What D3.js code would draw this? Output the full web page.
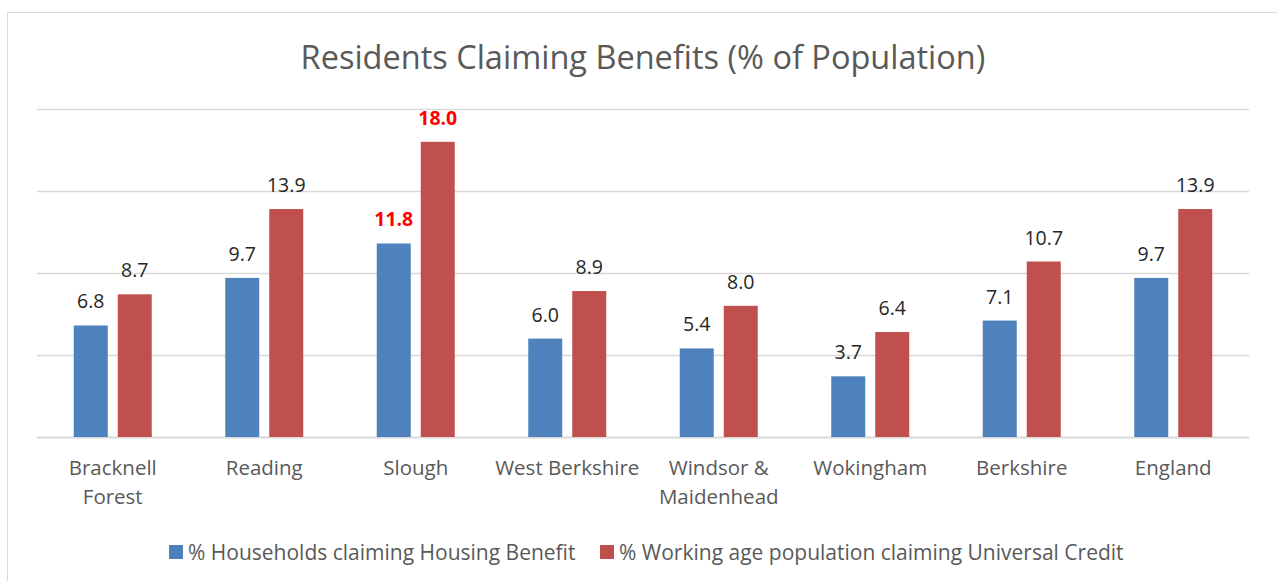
<!DOCTYPE html>
<html>
<head>
<meta charset="utf-8">
<script src="https://cdn.jsdelivr.net/npm/d3@7"></script>
<style>
  body { margin: 0; background: #fff; }
  svg { display: block; font-family: "Open Sans", "Noto Sans", sans-serif; }
</style>
</head>
<body>
<svg id="chart" width="1277" height="581"></svg>
<script>
var categories = [["Bracknell", "Forest"], ["Reading"], ["Slough"], ["West Berkshire"],
                  ["Windsor &", "Maidenhead"], ["Wokingham"], ["Berkshire"], ["England"]];
var housing = [6.8, 9.7, 11.8, 6.0, 5.4, 3.7, 7.1, 9.7];
var credit = [8.7, 13.9, 18.0, 8.9, 8.0, 6.4, 10.7, 13.9];
var seriesNames = ["% Households claiming Housing Benefit", "% Working age population claiming Universal Credit"];
var colors = ["#4F81BD", "#C0504D"];
var yTicks = [0, 5, 10, 15, 20];
// labels drawn bold red (highest values)
var highlight = [[2], [2]];

(function(){
var svg = d3.select("#chart");

// chart frame
svg.append("rect")
    .attr("x", 7.5).attr("y", 12.5)
    .attr("width", 1290).attr("height", 600)
    .attr("fill", "none").attr("stroke", "#D9D9D9");

var plotLeft = 37, plotRight = 1249, plotTop = 109, plotBottom = 437;

var x = d3.scaleBand()
    .domain(d3.range(categories.length))
    .range([plotLeft, plotRight]);

var y = d3.scaleLinear()
    .domain([0, 20])
    .range([plotBottom, plotTop]);

svg.append("text")
    .attr("x", 643).attr("y", 69)
    .attr("text-anchor", "middle")
    .attr("font-size", 32.5)
    .attr("fill", "#595959")
    .text("Residents Claiming Benefits (% of Population)");

// gridlines
svg.append("g").selectAll("line")
    .data(yTicks)
    .enter()
    .append("line")
    .attr("x1", plotLeft).attr("x2", plotRight)
    .attr("y1", function(d){ return Math.round(y(d)) + 0.5; })
    .attr("y2", function(d){ return Math.round(y(d)) + 0.5; })
    .attr("stroke", "#D9D9D9")
    .attr("stroke-width", function(d){ return d === 0 ? 2 : 1.5; });

var barW = 34, offset = 22;
var series = [housing, credit];

series.forEach(function(vals, s){
    var dx = s === 0 ? -offset : offset;
    var g = svg.append("g");
    g.selectAll("rect")
        .data(vals)
        .enter()
        .append("rect")
        .attr("x", function(d, i){ return x(i) + x.bandwidth() / 2 + dx - barW / 2; })
        .attr("y", function(d){ return y(d); })
        .attr("width", barW)
        .attr("height", function(d){ return plotBottom - y(d); })
        .attr("fill", colors[s]);

    g.selectAll("text")
        .data(vals)
        .enter()
        .append("text")
        .attr("x", function(d, i){ return x(i) + x.bandwidth() / 2 + dx; })
        .attr("y", function(d){ return y(d) - 17; })
        .attr("text-anchor", "middle")
        .attr("font-size", 19.5)
        .attr("font-weight", function(d, i){ return highlight[s].indexOf(i) >= 0 ? "bold" : "normal"; })
        .attr("fill", function(d, i){ return highlight[s].indexOf(i) >= 0 ? "#FF0000" : "#262626"; })
        .text(function(d){ return d.toFixed(1); });
});

// category labels
var catG = svg.append("g");
categories.forEach(function(lines, i){
    var t = catG.append("text")
        .attr("x", x(i) + x.bandwidth() / 2)
        .attr("y", 475)
        .attr("text-anchor", "middle")
        .attr("font-size", 20.5)
        .attr("fill", "#595959");
    lines.forEach(function(l, j){
        t.append("tspan")
            .attr("x", x(i) + x.bandwidth() / 2)
            .attr("dy", j === 0 ? 0 : 29)
            .text(l);
    });
});

// legend
var legend = svg.append("g");
var legendX = [169, 600];
seriesNames.forEach(function(name, s){
    legend.append("rect")
        .attr("x", legendX[s]).attr("y", 545)
        .attr("width", 14).attr("height", 14)
        .attr("fill", colors[s]);
    legend.append("text")
        .attr("x", legendX[s] + 19).attr("y", 560)
        .attr("font-size", 21)
        .attr("fill", "#595959")
        .text(name);
});
})();
</script>
</body>
</html>
